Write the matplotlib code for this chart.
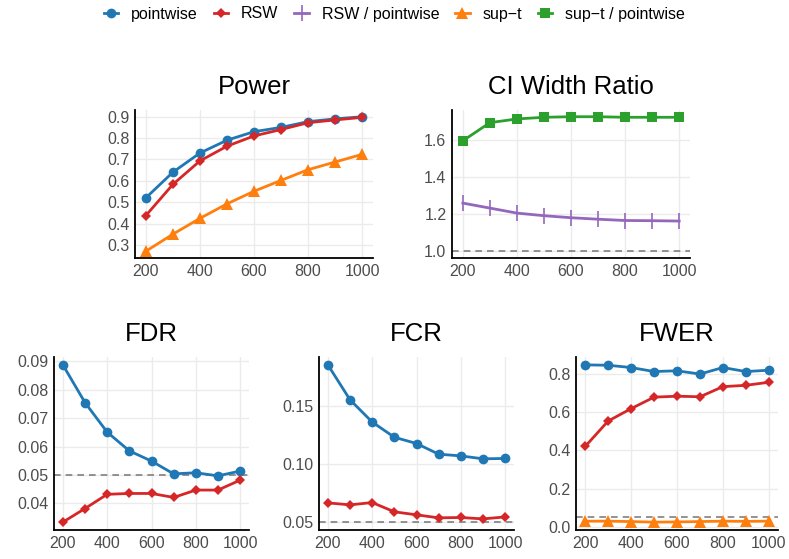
import numpy as np
import matplotlib
matplotlib.use("Agg")
import matplotlib.pyplot as plt
from matplotlib.lines import Line2D

plt.rcParams['font.family'] = ['Liberation Sans', 'DejaVu Sans']

n = [200, 300, 400, 500, 600, 700, 800, 900, 1000]

power_pointwise = [0.52, 0.64, 0.73, 0.79, 0.83, 0.85, 0.877, 0.89, 0.90]
power_rsw = [0.437, 0.583, 0.693, 0.762, 0.81, 0.84, 0.872, 0.885, 0.897]
power_supt = [0.27, 0.35, 0.424, 0.492, 0.551, 0.602, 0.652, 0.688, 0.724]

ratio_rsw = [1.26, 1.233, 1.206, 1.192, 1.181, 1.173, 1.166, 1.165, 1.163]
ratio_supt = [1.596, 1.694, 1.714, 1.723, 1.726, 1.726, 1.723, 1.723, 1.723]

fdr_pointwise = [0.0888, 0.0755, 0.0651, 0.0585, 0.0549, 0.0504, 0.0508, 0.0497, 0.0514]
fdr_rsw = [0.0334, 0.0382, 0.0432, 0.0435, 0.0435, 0.0421, 0.0447, 0.0447, 0.0482]

fcr_pointwise = [0.1856, 0.1555, 0.1363, 0.1232, 0.1178, 0.1086, 0.1071, 0.1046, 0.1049]
fcr_rsw = [0.0666, 0.0649, 0.0669, 0.0589, 0.0563, 0.0537, 0.054, 0.0528, 0.0545]

fwer_pointwise = [0.848, 0.846, 0.834, 0.813, 0.817, 0.80, 0.834, 0.813, 0.82]
fwer_rsw = [0.421, 0.554, 0.619, 0.679, 0.684, 0.681, 0.734, 0.741, 0.757]
fwer_supt = [0.03, 0.03, 0.028, 0.025, 0.026, 0.028, 0.03, 0.029, 0.03]

STYLE = {
    'pointwise':        dict(color='#1f77b4', marker='o', ms=7),
    'RSW':              dict(color='#d62728', marker='D', ms=5),
    'RSW / pointwise':  dict(color='#9467bd', marker='|', ms=11, mew=1.2),
    'sup\u2212t':       dict(color='#ff7f0e', marker='^', ms=8.5),
    'sup\u2212t / pointwise': dict(color='#2ca02c', marker='s', ms=7.5),
}

fig = plt.figure(figsize=(7.89, 5.59), dpi=100)
W, H = 789, 559


def add_ax(x0, x1, y_top, y_bot):
    return fig.add_axes([x0 / W, 1 - y_bot / H, (x1 - x0) / W, (y_bot - y_top) / H])


def style_ax(ax, title, yticks, fmt, ymin, ymax):
    span = ymax - ymin
    ax.set_ylim(ymin - 0.05 * span, ymax + 0.05 * span)
    ax.set_xlim(160, 1040)
    ax.set_xticks([200, 400, 600, 800, 1000])
    ax.set_yticks(yticks)
    ax.set_yticklabels([fmt.format(v) for v in yticks])
    ax.grid(True, which='major', color='#ebebeb', lw=1.0)
    ax.set_axisbelow(True)
    for s in ['top', 'right']:
        ax.spines[s].set_visible(False)
    for s in ['left', 'bottom']:
        ax.spines[s].set_linewidth(1.3)
        ax.spines[s].set_color('black')
    ax.tick_params(which='both', length=0, labelsize=11.5, labelcolor='#4d4d4d', pad=4)
    ax.set_title(title, fontsize=18.5, pad=11.5)


def plot_series(ax, y, name):
    st = STYLE[name]
    ax.plot(n, y, color=st['color'], lw=2.0, marker=st['marker'], ms=st['ms'],
            mew=st.get('mew', 0), clip_on=False, zorder=3)


def ref_line(ax, y):
    ax.axhline(y, color='#808080', lw=1.2, ls=(0, (4, 3)), zorder=2)


ax = add_ax(135, 373, 110, 258)
plot_series(ax, power_pointwise, 'pointwise')
plot_series(ax, power_rsw, 'RSW')
plot_series(ax, power_supt, 'sup\u2212t')
style_ax(ax, 'Power', [0.3, 0.4, 0.5, 0.6, 0.7, 0.8, 0.9], '{:.1f}', 0.27, 0.90)

ax = add_ax(452, 690, 110, 258)
ref_line(ax, 1.0)
plot_series(ax, ratio_rsw, 'RSW / pointwise')
plot_series(ax, ratio_supt, 'sup\u2212t / pointwise')
style_ax(ax, 'CI Width Ratio', [1.0, 1.2, 1.4, 1.6], '{:.1f}', 1.0, 1.726)

ax = add_ax(54, 249, 357, 530)
ref_line(ax, 0.05)
plot_series(ax, fdr_pointwise, 'pointwise')
plot_series(ax, fdr_rsw, 'RSW')
style_ax(ax, 'FDR', [0.04, 0.05, 0.06, 0.07, 0.08, 0.09], '{:.2f}', 0.0334, 0.0888)

ax = add_ax(319, 514, 357, 530)
ref_line(ax, 0.05)
plot_series(ax, fcr_pointwise, 'pointwise')
plot_series(ax, fcr_rsw, 'RSW')
style_ax(ax, 'FCR', [0.05, 0.10, 0.15], '{:.2f}', 0.05, 0.1856)

ax = add_ax(576, 778, 357, 530)
ref_line(ax, 0.05)
plot_series(ax, fwer_pointwise, 'pointwise')
plot_series(ax, fwer_rsw, 'RSW')
plot_series(ax, fwer_supt, 'sup\u2212t')
style_ax(ax, 'FWER', [0.0, 0.2, 0.4, 0.6, 0.8], '{:.1f}', 0.025, 0.848)

handles = [Line2D([], [], color=st['color'], lw=2.0, marker=st['marker'], ms=st['ms'],
                  mew=st.get('mew', 0)) for st in STYLE.values()]
fig.legend(handles, list(STYLE.keys()), loc='center', bbox_to_anchor=(0.5, 1 - 14 / H),
           ncol=5, frameon=False, fontsize=11.5, handlelength=0.9, handletextpad=0.8,
           columnspacing=1.0)

fig.savefig('out.png', dpi=100)
